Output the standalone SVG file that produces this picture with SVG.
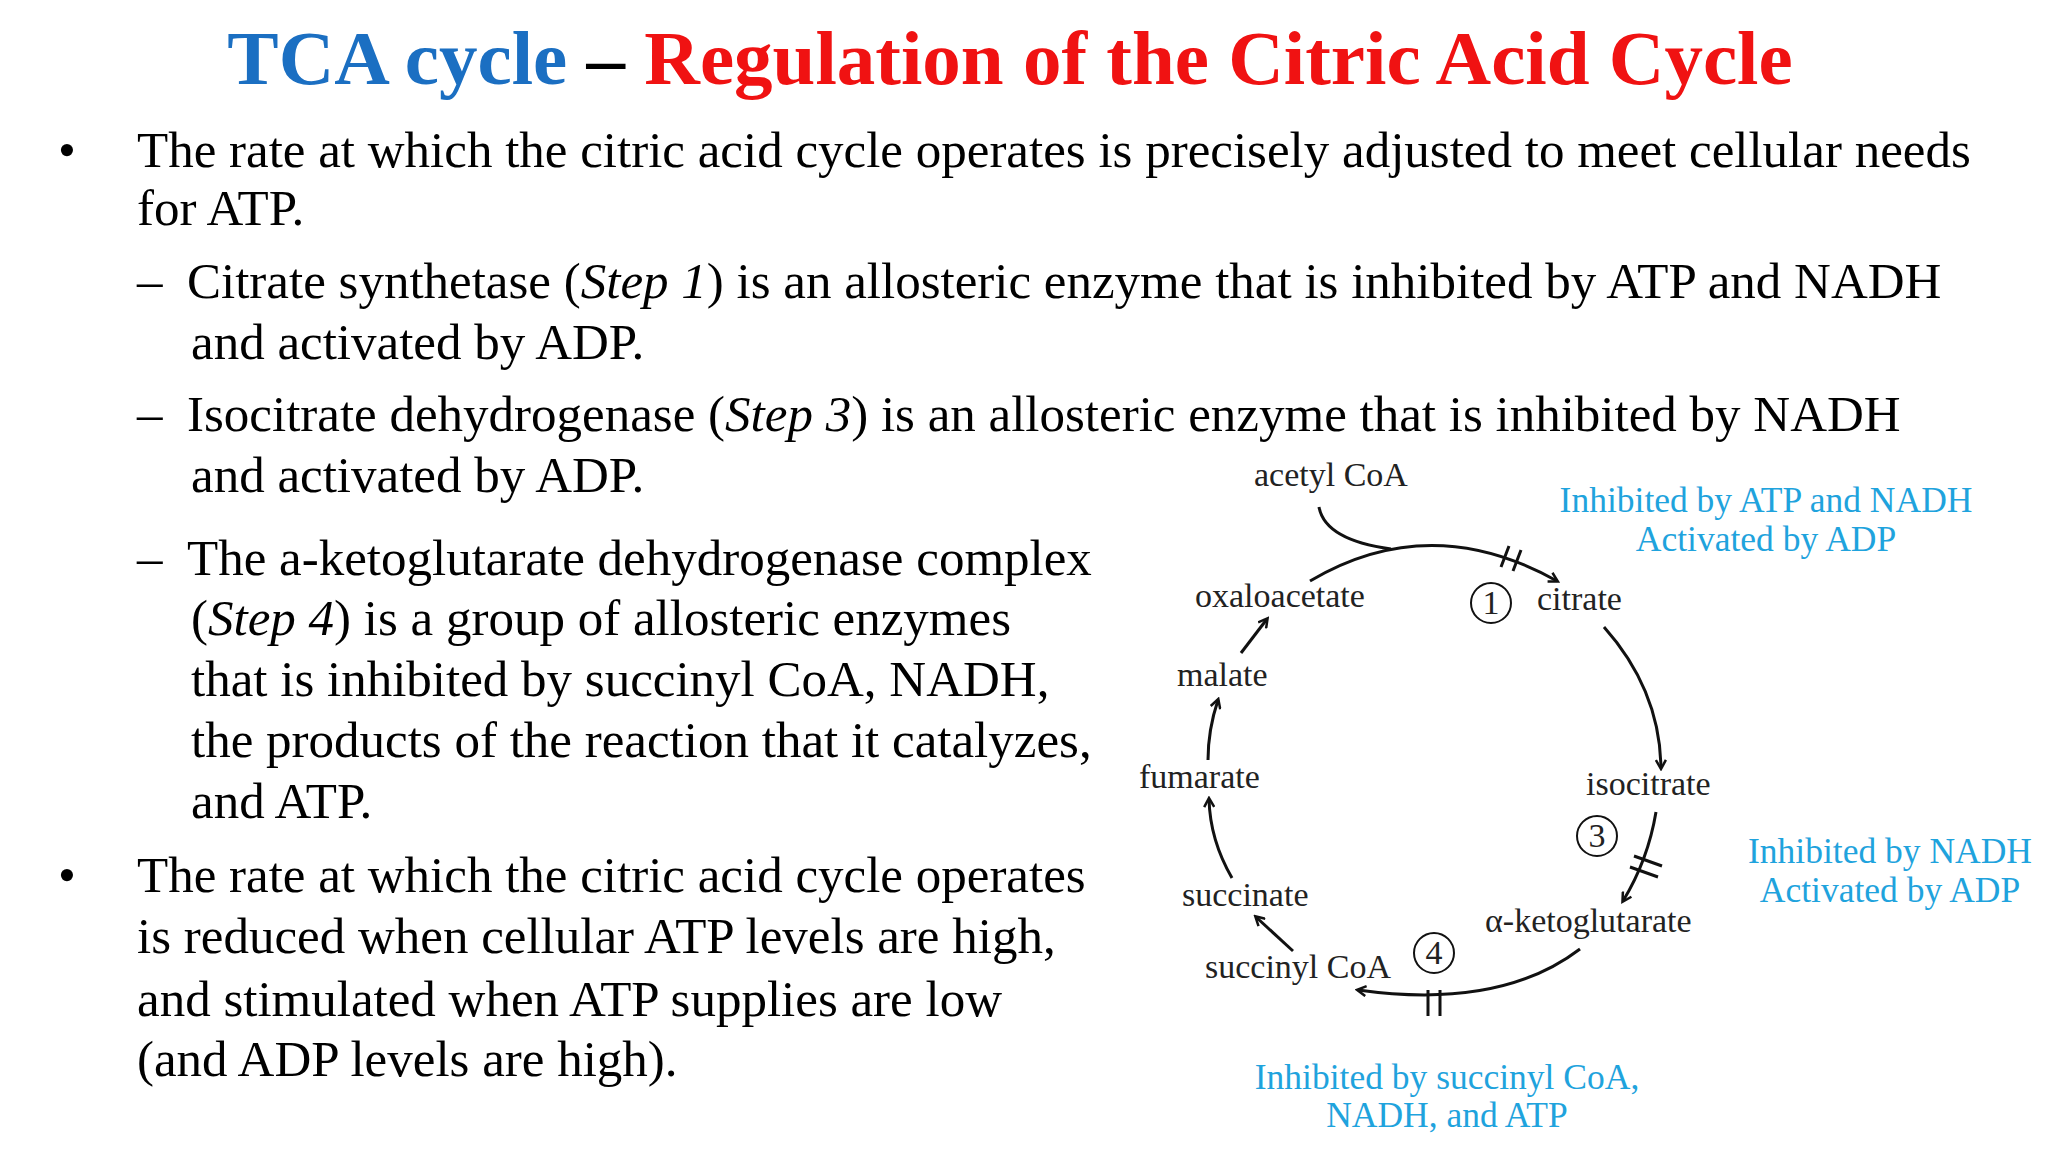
<svg xmlns="http://www.w3.org/2000/svg" width="2048" height="1152" viewBox="0 0 2048 1152">
<style>
.t{font-family:"Liberation Serif","Times New Roman",serif;font-size:51px;fill:#000}
.d{font-family:"Liberation Serif","Times New Roman",serif;font-size:34px;fill:#222}
.b{font-family:"Liberation Serif","Times New Roman",serif;font-size:35.5px;fill:#1fa3dd;text-anchor:middle}
.a{fill:none;stroke:#111;stroke-width:3}
.c{fill:none;stroke:#111;stroke-width:2}
</style>
<defs><marker id="ah" markerWidth="12" markerHeight="12" refX="9" refY="6" orient="auto" markerUnits="userSpaceOnUse"><path d="M1,1 L10,6 L1,11" fill="none" stroke="#111" stroke-width="2.5"/></marker></defs>
<rect width="2048" height="1152" fill="#fff"/>
<text x="1010" y="84" text-anchor="middle" font-family="Liberation Serif,serif" font-weight="bold" font-size="77"><tspan fill="#1b6fc2">TCA cycle</tspan><tspan fill="#000"> – </tspan><tspan fill="#f01212">Regulation of the Citric Acid Cycle</tspan></text>
<g id="text">
<text class="t" x="58" y="167">•</text>
<text class="t" x="137" y="167">The rate at which the citric acid cycle operates is precisely adjusted to meet cellular needs</text>
<text class="t" x="137" y="225">for ATP.</text>
<text class="t" x="137" y="298">–</text>
<text class="t" x="187" y="298">Citrate synthetase (<tspan font-style="italic">Step 1</tspan>) is an allosteric enzyme that is inhibited by ATP and NADH</text>
<text class="t" x="191" y="359">and activated by ADP.</text>
<text class="t" x="137" y="431">–</text>
<text class="t" x="187" y="431">Isocitrate dehydrogenase (<tspan font-style="italic">Step 3</tspan>) is an allosteric enzyme that is inhibited by NADH</text>
<text class="t" x="191" y="492">and activated by ADP.</text>
<text class="t" x="137" y="575">–</text>
<text class="t" x="187" y="575">The a-ketoglutarate dehydrogenase complex</text>
<text class="t" x="191" y="635">(<tspan font-style="italic">Step 4</tspan>) is a group of allosteric enzymes</text>
<text class="t" x="191" y="696">that is inhibited by succinyl CoA, NADH,</text>
<text class="t" x="191" y="757">the products of the reaction that it catalyzes,</text>
<text class="t" x="191" y="818">and ATP.</text>
<text class="t" x="58" y="892">•</text>
<text class="t" x="137" y="892">The rate at which the citric acid cycle operates</text>
<text class="t" x="137" y="953">is reduced when cellular ATP levels are high,</text>
<text class="t" x="137" y="1016">and stimulated when ATP supplies are low</text>
<text class="t" x="137" y="1076">(and ADP levels are high).</text>
</g>
<g id="n-acetyl"><text class="d" x="1254" y="486">acetyl CoA</text></g>
<g id="n-oxalo"><text class="d" x="1195" y="607">oxaloacetate</text></g>
<g id="n-citrate"><circle cx="1491" cy="603" r="20" class="c"/><text class="d" x="1491" y="614" text-anchor="middle">1</text><text class="d" x="1537" y="610">citrate</text></g>
<g id="n-malate"><text class="d" x="1177" y="686">malate</text></g>
<g id="n-fumarate"><text class="d" x="1139" y="788">fumarate</text></g>
<g id="n-isocitrate"><text class="d" x="1586" y="795">isocitrate</text><circle cx="1597" cy="836" r="20" class="c"/><text class="d" x="1597" y="847" text-anchor="middle">3</text></g>
<g id="n-akg"><text class="d" x="1485" y="932">α-ketoglutarate</text></g>
<g id="n-succinate"><text class="d" x="1182" y="906">succinate</text></g>
<g id="n-succcoa"><text class="d" x="1205" y="978">succinyl CoA</text><circle cx="1434" cy="953" r="20" class="c"/><text class="d" x="1434" y="964" text-anchor="middle">4</text></g>
<g id="labels">
<text class="b" x="1766" y="512">Inhibited by ATP and NADH</text>
<text class="b" x="1766" y="551">Activated by ADP</text>
<text class="b" x="1890" y="863">Inhibited by NADH</text>
<text class="b" x="1890" y="902">Activated by ADP</text>
<text class="b" x="1447" y="1089">Inhibited by succinyl CoA,</text>
<text class="b" x="1447" y="1127">NADH, and ATP</text>
</g>
<g id="connectors">
<path class="a" d="M1310,581 Q1430,510 1557,581" marker-end="url(#ah)"/>
<path class="a" d="M1319,507 Q1325,540 1391,549"/>
<path class="a" d="M1501,567 L1509,546 M1513,571 L1521,550"/>
<path class="a" d="M1604,627 Q1660,690 1661,768" marker-end="url(#ah)"/>
<path class="a" d="M1656,812 Q1648,860 1623,901" marker-end="url(#ah)"/>
<path class="a" d="M1634,856 L1662,866 M1630,867 L1658,877"/>
<path class="a" d="M1580,949 Q1500,1010 1358,990" marker-end="url(#ah)"/>
<path class="a" d="M1428,990 L1428,1016 M1440,990 L1440,1016"/>
<path class="a" d="M1293,951 L1256,917" marker-end="url(#ah)"/>
<path class="a" d="M1232,878 Q1210,840 1209,799" marker-end="url(#ah)"/>
<path class="a" d="M1208,760 Q1208,730 1218,700" marker-end="url(#ah)"/>
<path class="a" d="M1241,653 L1267,619" marker-end="url(#ah)"/>
</g>
</svg>
